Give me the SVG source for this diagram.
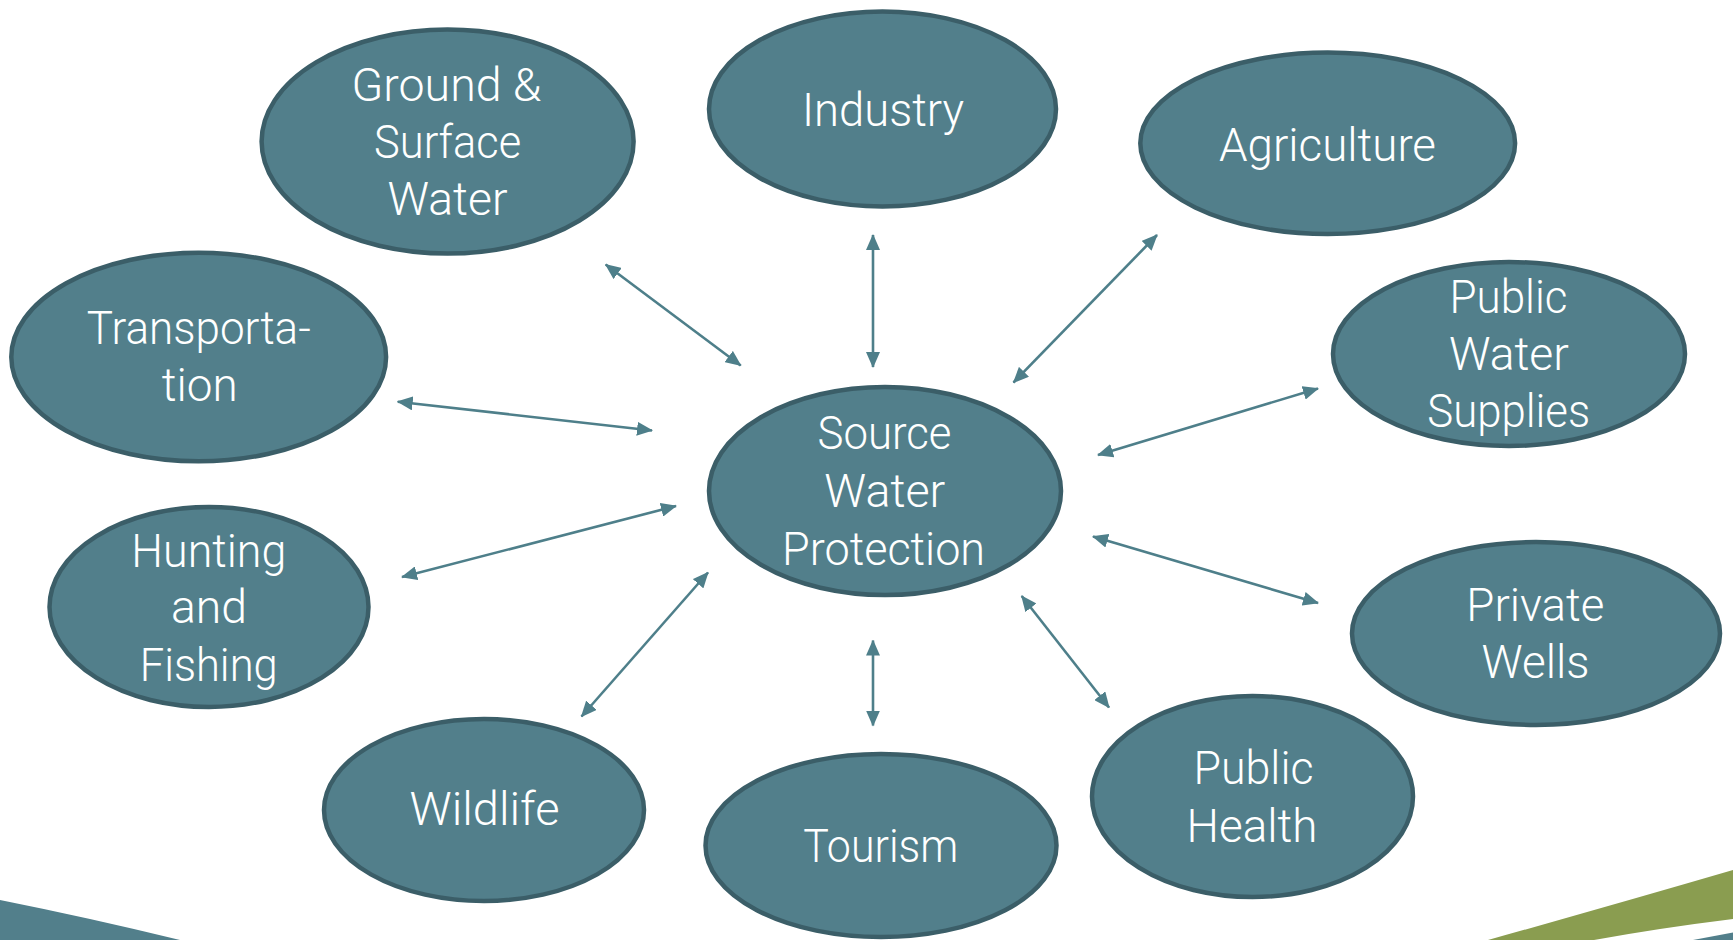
<svg xmlns="http://www.w3.org/2000/svg" width="1733" height="940" viewBox="0 0 1733 940">
<style>
.node{fill:#527F8B;stroke:#3B5E68;stroke-width:4.5}
.lbl{font-family:"Roboto","Liberation Sans",Arial,sans-serif;font-weight:300;font-size:47px;fill:#FFFFFF;text-anchor:middle}
.con{stroke:#4E7F8A;stroke-width:2.6;fill:none;marker-start:url(#ah);marker-end:url(#ah)}
</style>
<defs>
<marker id="ah" viewBox="0 0 16 14" refX="15" refY="7" markerWidth="16" markerHeight="14" markerUnits="userSpaceOnUse" orient="auto-start-reverse">
<path d="M0,0 L16,7 L0,14 Z" fill="#4E7F8A"/>
</marker>
</defs>
<rect width="1733" height="940" fill="#FFFFFF"/>
<g id="decor">
<path d="M0,900 Q90,918 180,940 L0,940 Z" fill="#527F8B"/>
<path d="M1488,940 Q1620,903 1733,870 L1733,919 Q1660,928 1594,940 Z" fill="#8A9D50"/>
<path d="M1693,940 L1733,932.5 L1733,940 Z" fill="#527F8B"/>
</g>
<g id="connectors">
<line class="con" x1="605.7" y1="264.5" x2="740.7" y2="365.5"/>
<line class="con" x1="873" y1="235" x2="873" y2="367"/>
<line class="con" x1="1157" y1="235" x2="1013.5" y2="382.5"/>
<line class="con" x1="397.7" y1="401.7" x2="652" y2="430.5"/>
<line class="con" x1="1318" y1="388.5" x2="1098" y2="455"/>
<line class="con" x1="402" y1="577" x2="676" y2="506"/>
<line class="con" x1="581.5" y1="716.5" x2="708" y2="572.5"/>
<line class="con" x1="873" y1="640.5" x2="873" y2="725.5"/>
<line class="con" x1="1021.7" y1="596" x2="1109" y2="707.5"/>
<line class="con" x1="1093" y1="536.5" x2="1318" y2="603"/>
</g>
<g id="ground-surface-water">
<ellipse class="node" cx="447.6" cy="141.6" rx="186" ry="112"/>
<text class="lbl" x="446.5" y="100.5" textLength="190" lengthAdjust="spacingAndGlyphs">Ground &amp;</text>
<text class="lbl" x="447.6" y="158" textLength="147" lengthAdjust="spacingAndGlyphs">Surface</text>
<text class="lbl" x="447.5" y="215" textLength="120" lengthAdjust="spacingAndGlyphs">Water</text>
</g>
<g id="industry">
<ellipse class="node" cx="882.5" cy="109" rx="173.5" ry="97.5"/>
<text class="lbl" x="883" y="125.5" textLength="162" lengthAdjust="spacingAndGlyphs">Industry</text>
</g>
<g id="agriculture">
<ellipse class="node" cx="1327.7" cy="143.3" rx="187.4" ry="90.7"/>
<text class="lbl" x="1327.5" y="160.5" textLength="217" lengthAdjust="spacingAndGlyphs">Agriculture</text>
</g>
<g id="transportation">
<ellipse class="node" cx="198.7" cy="357" rx="187.4" ry="104.3"/>
<text class="lbl" x="198.8" y="344" textLength="224" lengthAdjust="spacingAndGlyphs">Transporta-</text>
<text class="lbl" x="199.8" y="401" textLength="76" lengthAdjust="spacingAndGlyphs">tion</text>
</g>
<g id="public-water-supplies">
<ellipse class="node" cx="1509" cy="354" rx="176" ry="92"/>
<text class="lbl" x="1508.5" y="312.5" textLength="118" lengthAdjust="spacingAndGlyphs">Public</text>
<text class="lbl" x="1508.9" y="370" textLength="120" lengthAdjust="spacingAndGlyphs">Water</text>
<text class="lbl" x="1508.7" y="427" textLength="163" lengthAdjust="spacingAndGlyphs">Supplies</text>
</g>
<g id="source-water-protection">
<ellipse class="node" cx="885" cy="491" rx="176" ry="104"/>
<text class="lbl" x="884.5" y="449" textLength="134" lengthAdjust="spacingAndGlyphs">Source</text>
<text class="lbl" x="884.8" y="507" textLength="121" lengthAdjust="spacingAndGlyphs">Water</text>
<text class="lbl" x="883.6" y="565" textLength="203" lengthAdjust="spacingAndGlyphs">Protection</text>
</g>
<g id="hunting-fishing">
<ellipse class="node" cx="209" cy="607" rx="159.5" ry="100"/>
<text class="lbl" x="208.8" y="566.5" textLength="155" lengthAdjust="spacingAndGlyphs">Hunting</text>
<text class="lbl" x="208.9" y="623" textLength="76" lengthAdjust="spacingAndGlyphs">and</text>
<text class="lbl" x="208.7" y="680.5" textLength="138" lengthAdjust="spacingAndGlyphs">Fishing</text>
</g>
<g id="private-wells">
<ellipse class="node" cx="1536" cy="633.5" rx="184" ry="91.5"/>
<text class="lbl" x="1535.3" y="621" textLength="138" lengthAdjust="spacingAndGlyphs">Private</text>
<text class="lbl" x="1535.5" y="678" textLength="108" lengthAdjust="spacingAndGlyphs">Wells</text>
</g>
<g id="wildlife">
<ellipse class="node" cx="484" cy="810" rx="160" ry="91"/>
<text class="lbl" x="484.5" y="825" textLength="150" lengthAdjust="spacingAndGlyphs">Wildlife</text>
</g>
<g id="tourism">
<ellipse class="node" cx="881" cy="845.5" rx="175.5" ry="91.6"/>
<text class="lbl" x="880.8" y="862" textLength="155" lengthAdjust="spacingAndGlyphs">Tourism</text>
</g>
<g id="public-health">
<ellipse class="node" cx="1252.5" cy="796.5" rx="160.5" ry="100.5"/>
<text class="lbl" x="1253.5" y="784" textLength="120" lengthAdjust="spacingAndGlyphs">Public</text>
<text class="lbl" x="1252" y="841.5" textLength="131" lengthAdjust="spacingAndGlyphs">Health</text>
</g>
</svg>
